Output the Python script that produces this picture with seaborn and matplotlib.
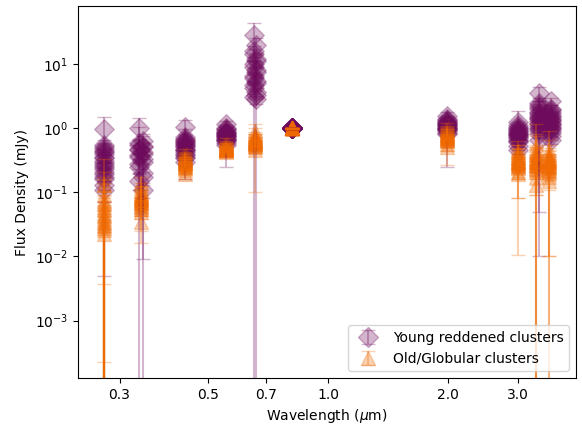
import numpy as np
import pandas as pd
import matplotlib
matplotlib.use("Agg")
import matplotlib.pyplot as plt
import seaborn as sns
from matplotlib.ticker import FixedLocator, FixedFormatter, NullLocator

# ---------------- data ----------------
# band wavelengths (micron) for each group (young clusters come from two filter sets)
young_wave_a = [0.275, 0.336, 0.438, 0.555, 0.652, 0.814, 1.99, 2.99, 3.38, 3.62]
young_wave_b = [0.275, 0.343, 0.438, 0.555, 0.660, 0.814, 1.99, 2.99, 3.38, 3.62]
old_wave = [0.275, 0.340, 0.438, 0.555, 0.656, 0.814, 1.99, 2.99, 3.33, 3.58]

# Young reddened clusters: flux (mJy) per band, one entry per cluster
young_f275 = [0.97, 0.55, 0.48, 0.42, 0.36, 0.31, 0.27, 0.23, 0.19, 0.16, 0.13, 0.11,
              0.50, 0.44, 0.40, 0.34, 0.29, 0.25, 0.21, 0.17]
young_f336 = [1.00, 0.62, 0.55, 0.50, 0.45, 0.40, 0.35, 0.30, 0.25, 0.20, 0.15, 0.11,
              0.58, 0.52, 0.47, 0.43, 0.38, 0.33, 0.28, 0.17]
young_f438 = [1.05, 0.72, 0.65, 0.60, 0.56, 0.52, 0.48, 0.45, 0.42, 0.38, 0.34, 0.30,
              0.68, 0.62, 0.58, 0.54, 0.50, 0.46, 0.40, 0.36]
young_f555 = [1.15, 1.00, 0.92, 0.86, 0.82, 0.78, 0.74, 0.70, 0.66, 0.62, 0.58, 0.55,
              0.95, 0.88, 0.84, 0.80, 0.76, 0.72, 0.68, 0.64]
young_f656 = [28.0, 20.0, 14.0, 11.0, 9.0, 7.5, 6.0, 5.0, 4.2, 3.6, 3.1, 2.8,
              16.0, 12.0, 10.0, 8.0, 6.5, 5.5, 4.6, 3.3]
young_f814 = [1.0] * 20
young_f200 = [1.55, 1.40, 1.30, 1.22, 1.15, 1.10, 1.05, 1.00, 0.95, 0.90, 0.85, 0.80,
              1.35, 1.25, 1.18, 1.12, 1.07, 1.02, 0.97, 0.92]
young_f300 = [1.25, 1.10, 1.00, 0.93, 0.87, 0.82, 0.77, 0.72, 0.66, 0.60, 0.52, 0.45,
              1.05, 0.96, 0.90, 0.85, 0.80, 0.74, 0.69, 0.63]
young_f335 = [3.50, 2.50, 2.10, 1.80, 1.60, 1.45, 1.30, 1.15, 1.00, 0.90, 0.80, 0.65,
              2.30, 1.95, 1.70, 1.50, 1.38, 1.22, 1.08, 0.95]
young_f360 = [2.60, 2.00, 1.75, 1.55, 1.40, 1.28, 1.15, 1.05, 0.95, 0.85, 0.75, 0.65,
              1.90, 1.65, 1.48, 1.34, 1.20, 1.10, 1.00, 0.90]

young_e275 = [0.50, 0.10, 0.08, 0.12, 0.06, 0.07, 0.05, 0.06, 0.04, 0.05, 0.125, 0.04,
              0.08, 0.06, 0.07, 0.05, 0.05, 0.04, 0.04, 0.03]
young_e336 = [0.45, 0.12, 0.10, 0.08, 0.60, 0.07, 0.06, 0.50, 0.05, 0.191, 0.04, 0.03,
              0.09, 0.08, 0.07, 0.06, 0.06, 0.05, 0.05, 0.04]
young_e438 = [0.28, 0.10, 0.08, 0.07, 0.40, 0.06, 0.05, 0.06, 0.05, 0.04, 0.05, 0.04,
              0.08, 0.07, 0.06, 0.06, 0.05, 0.05, 0.04, 0.04]
young_e555 = [0.12, 0.10, 0.08, 0.07, 0.06, 0.06, 0.05, 0.05, 0.05, 0.04, 0.04, 0.30,
              0.08, 0.07, 0.06, 0.06, 0.05, 0.05, 0.05, 0.04]
young_e656 = [15.0, 5.0, 3.0, 2.5, 2.0, 1.5, 1.2, 5.5, 0.8, 0.6, 3.5, 0.4,
              3.0, 2.0, 1.5, 1.2, 1.0, 0.8, 0.6, 0.5]
young_e814 = [0.02] * 20
young_e200 = [0.22, 0.15, 0.12, 0.10, 0.10, 0.08, 0.08, 0.07, 0.07, 0.06, 0.06, 0.55,
              0.12, 0.10, 0.09, 0.09, 0.08, 0.08, 0.07, 0.07]
young_e300 = [0.60, 0.15, 0.12, 0.10, 0.10, 0.09, 0.08, 0.08, 0.07, 0.07, 0.06, 0.05,
              0.12, 0.10, 0.09, 0.09, 0.08, 0.08, 0.07, 0.07]
young_e335 = [0.85, 0.40, 0.30, 0.25, 0.20, 0.18, 0.16, 0.15, 0.95, 0.12, 0.10, 0.64,
              0.30, 0.25, 0.20, 0.18, 0.16, 0.14, 0.12, 0.12]
young_e360 = [0.30, 0.25, 0.20, 0.18, 0.16, 0.15, 0.13, 0.12, 0.11, 0.10, 0.09, 0.08,
              0.22, 0.20, 0.17, 0.15, 0.14, 0.13, 0.12, 0.10]

# Old/Globular clusters
old_f275 = [0.13, 0.09, 0.075, 0.065, 0.055, 0.048, 0.042, 0.037, 0.033, 0.030, 0.026, 0.022,
            0.070, 0.060, 0.052, 0.045, 0.040, 0.035, 0.031, 0.028]
old_f336 = [0.14, 0.11, 0.10, 0.092, 0.085, 0.080, 0.075, 0.070, 0.065, 0.058, 0.050, 0.035,
            0.095, 0.088, 0.082, 0.078, 0.072, 0.068, 0.062, 0.055]
old_f438 = [0.42, 0.38, 0.35, 0.33, 0.31, 0.30, 0.29, 0.28, 0.26, 0.24, 0.22, 0.19,
            0.36, 0.34, 0.32, 0.305, 0.295, 0.285, 0.27, 0.25]
old_f555 = [0.65, 0.58, 0.54, 0.52, 0.50, 0.49, 0.48, 0.47, 0.46, 0.45, 0.44, 0.42,
            0.56, 0.53, 0.51, 0.50, 0.49, 0.48, 0.47, 0.45]
old_f656 = [0.90, 0.78, 0.72, 0.68, 0.65, 0.62, 0.60, 0.58, 0.56, 0.53, 0.50, 0.46,
            0.74, 0.70, 0.66, 0.63, 0.61, 0.59, 0.57, 0.55]
old_f814 = [1.0] * 20
old_f200 = [1.10, 0.98, 0.90, 0.85, 0.80, 0.76, 0.73, 0.70, 0.66, 0.62, 0.57, 0.50,
            0.93, 0.87, 0.82, 0.78, 0.74, 0.71, 0.68, 0.64]
old_f300 = [0.46, 0.42, 0.38, 0.35, 0.33, 0.31, 0.30, 0.28, 0.26, 0.24, 0.21, 0.19,
            0.40, 0.36, 0.34, 0.32, 0.30, 0.29, 0.27, 0.25]
old_f335 = [0.55, 0.45, 0.40, 0.36, 0.33, 0.31, 0.29, 0.27, 0.24, 0.21, 0.17, 0.13,
            0.42, 0.38, 0.34, 0.32, 0.30, 0.28, 0.26, 0.23]
old_f360 = [0.45, 0.40, 0.36, 0.33, 0.31, 0.29, 0.27, 0.25, 0.22, 0.20, 0.17, 0.15,
            0.38, 0.34, 0.32, 0.30, 0.28, 0.26, 0.24, 0.21]

old_e275 = [0.20, 0.12, 0.10, 0.09, 0.08, 0.06, 0.06, 0.05, 0.04, 0.0263, 0.02577, 0.03,
            0.09, 0.08, 0.07, 0.06, 0.05, 0.045, 0.04, 0.035]
old_e336 = [0.03, 0.03, 0.025, 0.02, 0.02, 0.02, 0.02, 0.054, 0.015, 0.015, 0.012, 0.01,
            0.025, 0.02, 0.02, 0.018, 0.018, 0.015, 0.015, 0.012]
old_e438 = [0.06, 0.05, 0.05, 0.04, 0.04, 0.04, 0.04, 0.03, 0.03, 0.03, 0.03, 0.03,
            0.05, 0.05, 0.04, 0.04, 0.04, 0.03, 0.03, 0.03]
old_e555 = [0.06, 0.05, 0.05, 0.04, 0.04, 0.04, 0.04, 0.03, 0.03, 0.03, 0.03, 0.03,
            0.05, 0.05, 0.04, 0.04, 0.04, 0.03, 0.03, 0.03]
old_e656 = [0.10, 0.08, 0.08, 0.07, 0.07, 0.52, 0.06, 0.06, 0.06, 0.05, 0.05, 0.05,
            0.08, 0.07, 0.07, 0.06, 0.06, 0.06, 0.05, 0.05]
old_e814 = [0.02] * 20
old_e200 = [0.12, 0.10, 0.10, 0.09, 0.09, 0.08, 0.08, 0.08, 0.07, 0.35, 0.06, 0.06,
            0.10, 0.09, 0.09, 0.08, 0.08, 0.07, 0.07, 0.07]
old_e300 = [0.08, 0.07, 0.06, 0.27, 0.06, 0.23, 0.05, 0.05, 0.04, 0.2295, 0.04, 0.03,
            0.07, 0.06, 0.06, 0.05, 0.05, 0.05, 0.04, 0.04]
old_e335 = [0.60, 0.10, 0.08, 0.45, 0.07, 0.07, 0.20, 0.06, 0.26, 0.05, 0.04, 0.04,
            0.08, 0.07, 0.40, 0.06, 0.06, 0.05, 0.05, 0.05]
old_e360 = [0.10, 0.50, 0.08, 0.07, 0.07, 0.06, 0.06, 0.24, 0.05, 0.05, 0.16, 0.04,
            0.07, 0.06, 0.06, 0.35, 0.05, 0.05, 0.05, 0.04]

young_label = "Young reddened clusters"
old_label = "Old/Globular clusters"
purple = "#6e0b5c"
orange = "#f06a02"

# ---------------- build tables ----------------
young_flux = [young_f275, young_f336, young_f438, young_f555, young_f656,
              young_f814, young_f200, young_f300, young_f335, young_f360]
young_err = [young_e275, young_e336, young_e438, young_e555, young_e656,
             young_e814, young_e200, young_e300, young_e335, young_e360]
old_flux = [old_f275, old_f336, old_f438, old_f555, old_f656,
            old_f814, old_f200, old_f300, old_f335, old_f360]
old_err = [old_e275, old_e336, old_e438, old_e555, old_e656,
           old_e814, old_e200, old_e300, old_e335, old_e360]

rows = []
for b in range(len(old_wave)):
    for i, (f, e) in enumerate(zip(young_flux[b], young_err[b])):
        w = young_wave_a[b] if i % 2 == 0 else young_wave_b[b]
        rows.append(dict(group=young_label, wave=w, flux=f, err=e))
    for f, e in zip(old_flux[b], old_err[b]):
        rows.append(dict(group=old_label, wave=old_wave[b], flux=f, err=e))
df = pd.DataFrame(rows)

# ---------------- plot ----------------
fig = plt.figure(figsize=(5.82, 4.26), dpi=100)
ax = fig.add_axes([78 / 582, 1 - 378 / 426, 498 / 582, 372 / 426])
ax.set_xscale("log")
ax.set_yscale("log")

styles = {young_label: dict(color=purple, marker="D", ms=10),
          old_label: dict(color=orange, marker="^", ms=10)}
alpha = 0.3
for g in [young_label, old_label]:
    sub = df[df.group == g]
    st = styles[g]
    ax.errorbar(sub.wave, sub.flux, yerr=sub.err, fmt="none", ecolor=st["color"],
                alpha=alpha, capsize=5, elinewidth=1.5)
    sns.scatterplot(data=sub, x="wave", y="flux", ax=ax, color=st["color"],
                    marker=st["marker"], s=st["ms"] ** 2, alpha=alpha,
                    edgecolor=st["color"], linewidth=1, legend=False)
    # legend proxy (errorbar style)
    ax.errorbar([np.nan], [np.nan], yerr=[np.nan], fmt=st["marker"], color=st["color"],
                ms=st["ms"], alpha=alpha, capsize=5, label=g)

ax.set_xlim(0.236, 4.19)
ax.set_ylim(1.28e-4, 79.6)
xt = [0.3, 0.5, 0.7, 1.0, 2.0, 3.0]
ax.xaxis.set_major_locator(FixedLocator(xt))
ax.xaxis.set_major_formatter(FixedFormatter([f"{v:.1f}" for v in xt]))
ax.xaxis.set_minor_locator(NullLocator())
ax.yaxis.set_minor_locator(NullLocator())
ax.set_xlabel(r"Wavelength ($\mu$m)")
ax.set_ylabel("Flux Density (mJy)")
ax.legend(loc="lower right")

fig.savefig("out.png", dpi=100)
